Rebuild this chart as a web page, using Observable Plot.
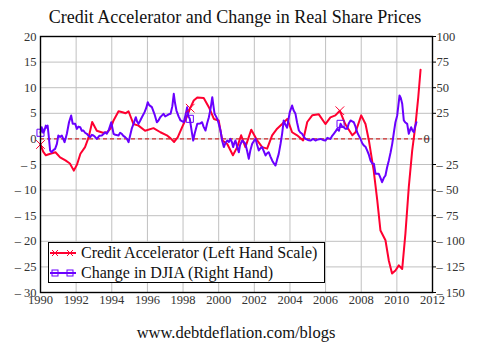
<!DOCTYPE html>
<html>
<head>
<meta charset="utf-8">
<script src="https://cdn.jsdelivr.net/npm/d3@7"></script>
<script src="https://cdn.jsdelivr.net/npm/@observablehq/plot@0.6"></script>
<style>
  body { margin:0; width:496px; height:362px; background:#fff; position:relative; overflow:hidden; font-family:"Liberation Serif","Times New Roman",serif; }
  #title { position:absolute; left:0; top:8px; width:470px; text-align:center; font-size:18px; line-height:18px; color:#111; white-space:nowrap; }
  #chart { position:absolute; left:0; top:0; }
  #chart svg, #chart svg text { font-family:"Liberation Serif","Times New Roman",serif !important; }
  #legend { position:absolute; left:48px; top:242px; width:275px; height:39px; border:1.5px solid #000; background:#fff; font-size:16px; }
  #legend .row { position:absolute; left:0; height:20px; line-height:20px; white-space:nowrap; color:#111; }
  #legend svg { position:absolute; left:0; top:0; }
  #legend span { position:absolute; left:32px; top:0; }
  #caption { position:absolute; left:0; top:324px; width:472px; text-align:center; font-size:16.5px; line-height:17px; color:#111; white-space:nowrap; }
</style>
</head>
<body>
<div id="title">Credit Accelerator and Change in Real Share Prices</div>
<div id="chart"></div>
<div id="legend"></div>
<div id="caption">www.debtdeflation.com/blogs</div>
<script>
// ---- data ----
const redYears = [1990.0,1990.15,1990.3,1990.55,1990.84,1991.1,1991.4,1991.65,1991.87,1992.05,1992.24,1992.5,1992.7,1992.9,1993.16,1993.5,1993.74,1993.93,1994.1,1994.38,1994.6,1994.77,1994.94,1995.22,1995.5,1995.87,1996.34,1996.73,1997.09,1997.3,1997.5,1997.7,1997.95,1998.2,1998.4,1998.6,1998.8,1999.16,1999.45,1999.73,2000.0,2000.2,2000.48,2000.8,2001.04,2001.26,2001.5,2001.83,2002.16,2002.44,2002.72,2003.0,2003.28,2003.56,2003.85,2004.12,2004.4,2004.74,2004.97,2005.25,2005.62,2005.99,2006.27,2006.55,2006.8,2007.1,2007.5,2007.68,2008.0,2008.24,2008.43,2008.7,2008.9,2009.08,2009.36,2009.55,2009.73,2009.92,2010.11,2010.3,2010.48,2010.67,2010.86,2011.05,2011.2,2011.33];
const redValues = [-1.1,-2.5,-3.2,-2.9,-2.6,-3.6,-4.2,-4.8,-6.2,-5.0,-2.9,-1.6,0.3,3.3,1.6,1.2,1.3,2.0,3.6,5.4,5.2,5.0,5.4,2.9,2.6,1.6,2.1,1.3,0.7,0.1,-0.6,0.3,2.3,4.2,6.0,7.5,8.1,8.0,6.2,3.9,3.6,-0.3,-1.0,-3.2,-1.6,0.7,-1.6,1.8,-0.3,-1.6,-1.9,0.7,2.0,2.9,3.9,1.3,0.7,-0.3,3.3,4.6,4.8,2.9,4.2,4.6,5.5,2.9,0.7,1.3,4.6,2.9,-0.3,-6.2,-12,-17.9,-19.8,-23.8,-26.3,-25.7,-24.7,-25.4,-18.5,-9.4,-2.3,2.9,8.1,13.5];
const blueYears = [1990.0,1990.07,1990.15,1990.22,1990.3,1990.35,1990.4,1990.45,1990.54,1990.63,1990.72,1990.82,1990.92,1991.0,1991.1,1991.2,1991.35,1991.48,1991.6,1991.72,1991.81,1991.95,1992.04,1992.13,1992.23,1992.32,1992.41,1992.5,1992.6,1992.7,1992.79,1992.88,1992.97,1993.06,1993.16,1993.3,1993.44,1993.55,1993.63,1993.72,1993.82,1993.97,1994.1,1994.2,1994.38,1994.47,1994.56,1994.65,1994.75,1994.85,1994.94,1995.03,1995.12,1995.22,1995.35,1995.42,1995.5,1995.6,1995.69,1995.78,1995.84,1995.93,1996.02,1996.1,1996.25,1996.4,1996.53,1996.62,1996.72,1996.82,1996.9,1997.0,1997.1,1997.2,1997.3,1997.4,1997.48,1997.55,1997.63,1997.75,1997.86,1998.04,1998.15,1998.23,1998.3,1998.38,1998.48,1998.57,1998.65,1998.8,1998.95,1999.07,1999.15,1999.26,1999.35,1999.45,1999.55,1999.64,1999.7,1999.77,1999.85,1999.92,2000.0,2000.1,2000.2,2000.29,2000.38,2000.48,2000.57,2000.66,2000.74,2000.81,2000.88,2000.94,2001.04,2001.13,2001.2,2001.32,2001.4,2001.5,2001.6,2001.69,2001.78,2001.88,2001.98,2002.07,2002.16,2002.25,2002.35,2002.44,2002.53,2002.63,2002.72,2002.81,2002.9,2003.0,2003.1,2003.19,2003.28,2003.37,2003.47,2003.56,2003.65,2003.74,2003.84,2003.99,2004.12,2004.2,2004.31,2004.4,2004.5,2004.6,2004.68,2004.78,2004.87,2005.0,2005.15,2005.3,2005.43,2005.57,2005.71,2005.85,2005.99,2006.1,2006.27,2006.37,2006.46,2006.55,2006.65,2006.75,2006.84,2006.93,2007.02,2007.1,2007.21,2007.3,2007.4,2007.5,2007.58,2007.68,2007.77,2007.87,2007.96,2008.05,2008.15,2008.25,2008.33,2008.42,2008.52,2008.62,2008.71,2008.8,2008.9,2008.98,2009.08,2009.17,2009.27,2009.36,2009.45,2009.55,2009.65,2009.74,2009.83,2009.92,2010.02,2010.08,2010.15,2010.22,2010.3,2010.39,2010.48,2010.58,2010.67,2010.75,2010.8,2010.88,2010.95,2011.02,2011.1];
const blueValues = [6,11.4,6,8.2,13,11,13,5,-11.3,-13,-11,-9.7,-4.8,3.3,2,3.3,-3.2,5,16.3,22.9,14.7,14.7,9.8,12,11.4,8,8.2,6,5,3,1.7,4,3.3,2,0,3,3.3,5,6.5,5,8.2,16.3,5,4,3.3,6,5,3,1.7,0,-3.2,3.3,10,14.7,21.2,17,14.7,18,21.2,24,26.1,30,35.8,33,31,24,16.3,18,21.2,23,24.5,22,22.9,24,24.5,32,44,35,27.7,22,18,16.3,24,31,22,19.6,8,-1.6,5,14.7,15,16.3,12,8.2,15,21.2,30,40.7,33,24.5,22,19.6,15,8.2,-2,-8,-4,-1.6,-3,0,-3,-8,-4,-1.6,-8,-13,-6,-1.6,-3,-4.8,-12,-19.5,-11,-4.8,-2,0,-6,-11.3,-9,-8,-12,-16.2,-14,-13,-17,-21,-24,-26,-20,-14.6,-5,5,18,14,11,26.1,32.6,28,24.5,16,8.2,6,5,2,0,-1,-1.6,0,-1.6,-0.5,0,-1,-1.6,1,0,3,5,7,9.8,8,14.7,12,11.4,10,9.8,15,18,17,16.3,12,6.5,3,0,-4,-6.5,-8,-11.3,-15,-21,-24,-24.3,-34,-34,-34,-38,-42.3,-38,-35.7,-28,-21,-13,-4.8,6,16.3,22.9,32,42.4,40,34.3,18,16,14.7,5,9,11.4,8,6.5,12,16.3];
const markerYears = [1990.0, 1998.38, 2006.8];
const xTicks = [1990,1992,1994,1996,1998,2000,2002,2004,2006,2008,2010,2012];
const leftTicks = [20,15,10,5,0,-5,-10,-15,-20,-25,-30];
const rightTicks = [100,75,50,25,0,-25,-50,-75,-100,-125,-150];
const seriesNames = ["Credit Accelerator (Left Hand Scale)", "Change in DJIA (Right Hand)"];
const colors = ["#ff0030", "#6a00ff"];

// ---- tables ----
const ratio = 5; // right scale = left scale * 5
const red = redYears.map((x, i) => ({x, y: redValues[i]}));
const blue = blueYears.map((x, i) => ({x, y: blueValues[i] / ratio}));
const nearest = (arr, yr) => arr.reduce((a, b) => Math.abs(b.x - yr) < Math.abs(a.x - yr) ? b : a);
const redMarks = markerYears.map(yr => nearest(red, yr));
const blueMarks = markerYears.map(yr => nearest(blue, yr));
const fmt = v => v < 0 ? "\u2013 " + (-v) : String(v);
const rightFmt = d => fmt(rightTicks[leftTicks.indexOf(d)]);

const chart = Plot.plot({
  width: 496,
  height: 320,
  marginLeft: 40,
  marginRight: 64,
  marginTop: 36,
  marginBottom: 28,
  style: 'font-family:"Liberation Serif","Times New Roman",serif;font-size:12.5px;color:#333;background:transparent;overflow:visible;',
  x: {domain: [1990, 2012], label: null},
  y: {domain: [-30, 20], label: null},
  marks: [
    Plot.gridX(xTicks, {stroke: "#c0c0c0", strokeOpacity: 1, strokeWidth: 1}),
    Plot.gridY(leftTicks, {stroke: "#c0c0c0", strokeOpacity: 1, strokeWidth: 1}),
    Plot.ruleY([0], {stroke: "#cc0000", strokeDasharray: "4,3", strokeWidth: 1}),
    Plot.line(red, {x: "x", y: "y", stroke: colors[0], strokeWidth: 2}),
    Plot.line(blue, {x: "x", y: "y", stroke: colors[1], strokeWidth: 2}),
    Plot.dot(redMarks, {x: "x", y: "y", symbol: "times", r: 4, stroke: colors[0], strokeWidth: 1}),
    Plot.dot(blueMarks, {x: "x", y: "y", symbol: "square", r: 4, stroke: colors[1], fill: "none", strokeWidth: 1}),
    Plot.frame({stroke: "#000", strokeWidth: 1.4}),
    Plot.axisX({ticks: xTicks, tickFormat: d => String(d), tickSize: 0, tickPadding: 3, fill: "#333", label: null}),
    Plot.axisY({ticks: leftTicks, tickFormat: fmt, tickSize: 0, tickPadding: 4, anchor: "left", fill: "#333", label: null}),
    Plot.axisY({ticks: leftTicks.filter(d => d !== 0), tickFormat: rightFmt, tickSize: 3, tickPadding: 1, anchor: "right", fill: "#333", stroke: "#000", label: null}),
    Plot.axisY({ticks: [0], tickFormat: rightFmt, tickSize: 0, tickPadding: 0, anchor: "right", dx: -9, fill: "#333", label: null})
  ]
});
document.getElementById("chart").appendChild(chart);

// ---- legend ----
const legend = document.getElementById("legend");
seriesNames.forEach((name, i) => {
  const row = document.createElement("div");
  row.className = "row";
  row.style.top = (i * 20) + "px";
  row.style.width = "275px";
  const sym = i === 0
    ? `<path d="M1,10H27" stroke="${colors[0]}" stroke-width="2"/><path d="M3,7L9,13M9,7L3,13M18,7L24,13M24,7L18,13" stroke="${colors[0]}" stroke-width="1"/>`
    : `<path d="M1,10H27" stroke="${colors[1]}" stroke-width="2"/><rect x="3" y="7" width="6" height="6" fill="none" stroke="${colors[1]}"/><rect x="18" y="7" width="6" height="6" fill="none" stroke="${colors[1]}"/>`;
  row.innerHTML = `<svg width="30" height="20">${sym}</svg><span>${name}</span>`;
  legend.appendChild(row);
});
</script>
</body>
</html>
